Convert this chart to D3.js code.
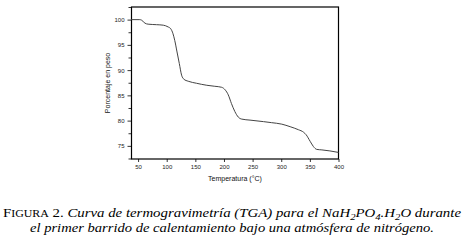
<!DOCTYPE html>
<html><head><meta charset="utf-8">
<script src="https://cdn.jsdelivr.net/npm/d3@7"></script>
<style>body{margin:0;background:#fff}svg{display:block}</style>
</head><body>
<svg id="c" width="465" height="252"></svg>
<script>
const temperature = [38,53,56,62,67.5,82,94,102.5,107,111,114,118,122,126,130,137.5,152,170,184,196,202,207.5,213,219,225,231,245.5,269,283,301,315.5,330,339,343.5,350.5,356,362,371,385,400];
const weight = [100,100,99.9,99.3,99.1,99.0,98.9,98.55,98.2,97.2,95.9,93.6,91.3,89.0,88.2,87.8,87.4,87.0,86.8,86.6,86.1,85.1,83.4,81.8,80.7,80.3,80.1,79.8,79.6,79.3,78.8,78.2,77.7,77.2,75.9,74.9,74.3,74.2,74.0,73.7];
const xTicks = [50,100,150,200,250,300,350,400];
const yTicks = [75,80,85,90,95,100];
const yMinor = [72.5,77.5,82.5,87.5,92.5,97.5,102.5];
const xLabel = "Temperatura (°C)";
const yLabel = "Porcentaje en peso";

const svg = d3.select("#c");
const L=131.5, R=338.5, T=7, B=159;
const x = d3.scaleLinear().domain([38.5,400]).range([L,R]);
const y = d3.scaleLinear().domain([72.4,102.5]).range([B,T]);

const tickFont = "Arial, 'Liberation Sans', sans-serif";
// y axis
const gy = svg.append("g").attr("transform",`translate(${L},0)`)
  .call(d3.axisLeft(y).tickValues(yTicks).tickSize(4).tickPadding(3).tickFormat(d3.format("d")));
svg.append("g").attr("transform",`translate(${L},0)`)
  .call(d3.axisLeft(y).tickValues(yMinor).tickSize(3).tickFormat(""));
const gx = svg.append("g").attr("transform",`translate(0,${B})`)
  .call(d3.axisBottom(x).tickValues(xTicks).tickSize(3).tickPadding(3).tickFormat(d3.format("d")));
svg.selectAll(".domain").remove();
svg.selectAll(".tick line").attr("stroke","#000").attr("stroke-width",0.8);
svg.selectAll(".tick text").attr("font-family",tickFont).attr("font-size",6).attr("fill","#222");

// frame
svg.append("rect").attr("x",L).attr("y",T).attr("width",R-L).attr("height",B-T)
  .attr("fill","none").attr("stroke","#000").attr("stroke-width",1.2);

// curve
const line = d3.line().x((d,i)=>x(temperature[i])).y(d=>y(d)).curve(d3.curveMonotoneX);
svg.append("path").attr("d",line(weight)).attr("fill","none").attr("stroke","#444").attr("stroke-width",1);

// axis titles
svg.append("text").attr("x",(L+R)/2).attr("y",181).attr("text-anchor","middle")
  .attr("font-family",tickFont).attr("font-size",7).attr("fill","#111").text(xLabel);
svg.append("text").attr("transform",`translate(110,${(T+B)/2}) rotate(-90)`).attr("text-anchor","middle")
  .attr("font-family",tickFont).attr("font-size",7).attr("fill","#111").text(yLabel);

// caption
const serif = "'Liberation Serif','DejaVu Serif',serif";
const c1 = svg.append("text").attr("x",3).attr("y",217).attr("font-family",serif).attr("font-size",12.5).attr("fill","#000")
  .attr("textLength",458).attr("lengthAdjust","spacingAndGlyphs");
c1.append("tspan").text("F");
c1.append("tspan").attr("font-size",10).text("IGURA");
c1.append("tspan").text(" 2. ");
const it = (t)=>c1.append("tspan").attr("font-style","italic").text(t);
it("Curva de termogravimetría (TGA) para el NaH");
c1.append("tspan").attr("font-style","italic").attr("font-size",9).attr("dy",3).text("2");
c1.append("tspan").attr("font-style","italic").attr("dy",-3).text("PO");
c1.append("tspan").attr("font-style","italic").attr("font-size",9).attr("dy",3).text("4");
c1.append("tspan").attr("font-style","italic").attr("dy",-3).text(".H");
c1.append("tspan").attr("font-style","italic").attr("font-size",9).attr("dy",3).text("2");
c1.append("tspan").attr("font-style","italic").attr("dy",-3).text("O durante");
svg.append("text").attr("x",232).attr("y",232).attr("text-anchor","middle").attr("font-family",serif)
  .attr("font-size",12.5).attr("font-style","italic").attr("fill","#000")
  .attr("textLength",404).attr("lengthAdjust","spacingAndGlyphs")
  .text("el primer barrido de calentamiento bajo una atmósfera de nitrógeno.");
</script>
</body></html>
